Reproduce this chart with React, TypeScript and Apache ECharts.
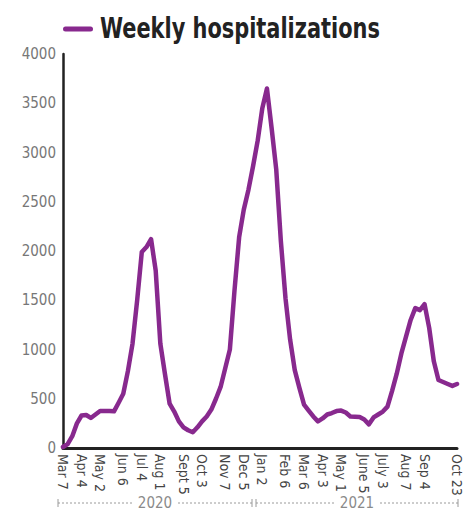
import React, { useEffect, useRef } from "react";
import * as echarts from "echarts";

const FONT = "'DejaVu Sans Condensed', 'DejaVu Sans', sans-serif";

const seriesName = "Weekly hospitalizations";

// weekly values, Mar 7 2020 .. Oct 23 2021 (86 weeks)
const hospitalizations = [
  10, 40, 120, 250, 330, 335, 305, 340, 375, 375,
  375, 372, 460, 550, 780, 1060, 1500, 1990, 2040, 2120,
  1800, 1060, 750, 450, 370, 270, 210, 180, 160, 210,
  270, 320, 390, 500, 620, 810, 1000, 1600, 2140, 2420,
  2620, 2860, 3120, 3450, 3650, 3250, 2830, 2100, 1520, 1100,
  790, 610, 440, 380, 320, 270, 300, 340, 355, 375,
  380, 360, 320, 318, 315, 290, 240, 310, 340, 370,
  420, 580, 755, 960, 1130, 1300, 1420, 1400, 1460, 1220,
  880, 690, 670, 650, 630, 650,
];

const tickIndices = [0, 4, 8, 13, 17, 21, 26, 30, 35, 39, 43, 48, 52, 56, 60, 65, 69, 74, 78, 85];
const tickLabels = [
  "Mar 7", "Apr 4", "May 2", "Jun 6", "Jul 4", "Aug 1", "Sept 5", "Oct 3", "Nov 7", "Dec 5",
  "Jan 2", "Feb 6", "Mar 6", "Apr 3", "May 1", "June 5", "July 3", "Aug 7", "Sep 4", "Oct 23",
];

const years = ["2020", "2021"];

const categories = hospitalizations.map((_, i) => {
  const k = tickIndices.indexOf(i);
  return k >= 0 ? tickLabels[k] : "w" + i;
});

const PURPLE = "#88298E";

export default function App() {
  const ref = useRef<HTMLDivElement>(null);
  useEffect(() => {
    if (!ref.current) return;
    const chart = echarts.init(ref.current, null, { renderer: "svg" });
    const bracketY = 503;
    const dash = { stroke: "#9a9a9a", lineWidth: 1, lineDash: [2, 2] };
    const solid = { stroke: "#9a9a9a", lineWidth: 1 };
    const bracket = (x1: number, x2: number, label: string) => [
      { type: "line", shape: { x1, y1: bracketY, x2, y2: bracketY }, style: dash },
      { type: "line", shape: { x1, y1: bracketY - 4, x2: x1, y2: bracketY + 4 }, style: solid },
      { type: "line", shape: { x1: x2, y1: bracketY - 4, x2, y2: bracketY + 4 }, style: solid },
      {
        type: "text",
        x: (x1 + x2) / 2,
        y: bracketY,
        style: {
          text: label,
          fill: "#8a8a8a",
          font: `15px ${FONT}`,
          textAlign: "center",
          textVerticalAlign: "middle",
          backgroundColor: "#fff",
          padding: [0, 4],
        },
      },
    ];
    chart.setOption({
      animation: false,
      textStyle: { fontFamily: FONT },
      legend: { show: false, data: [seriesName] },
      grid: { left: 63, right: 8, top: 54, bottom: 70, containLabel: false },
      xAxis: {
        type: "category",
        data: categories,
        boundaryGap: false,
        axisLine: { lineStyle: { color: "#222", width: 3 } },
        axisTick: { show: false },
        axisLabel: {
          interval: (i: number) => tickIndices.includes(i),
          formatter: (v: string) => (v.startsWith("w") ? "" : v),
          rotate: -90,
          margin: 6,
          color: "#444",
          fontSize: 14,
          fontFamily: FONT,
        },
        splitLine: { show: false },
      },
      yAxis: {
        type: "value",
        min: 0,
        max: 4000,
        interval: 500,
        axisLine: { show: true, lineStyle: { color: "#222", width: 2.5 } },
        axisTick: { show: false },
        axisLabel: { color: "#777", fontSize: 15, margin: 7, fontFamily: FONT, formatter: (v: number) => String(v) },
        splitLine: { show: false },
      },
      series: [
        {
          name: seriesName,
          type: "line",
          data: hospitalizations,
          symbol: "none",
          color: PURPLE,
          lineStyle: { width: 4.5, color: PURPLE, join: "round", cap: "round" },
        },
      ],
      graphic: [
        {
          type: "rect",
          shape: { x: 63, y: 26.5, width: 30, height: 5, r: 2.5 },
          style: { fill: PURPLE },
        },
        {
          type: "text",
          x: 100,
          y: 28,
          scaleX: 0.83,
          style: {
            text: seriesName,
            fill: "#222",
            font: `bold 28px ${FONT}`,
            textAlign: "left",
            textVerticalAlign: "middle",
          },
        },
        ...bracket(58, 252, years[0]),
        ...bracket(256, 458, years[1]),
      ],
    });
    return () => chart.dispose();
  }, []);
  return <div ref={ref} style={{ position: "absolute", left: 0, top: 0, width: 465, height: 518 }} />;
}
